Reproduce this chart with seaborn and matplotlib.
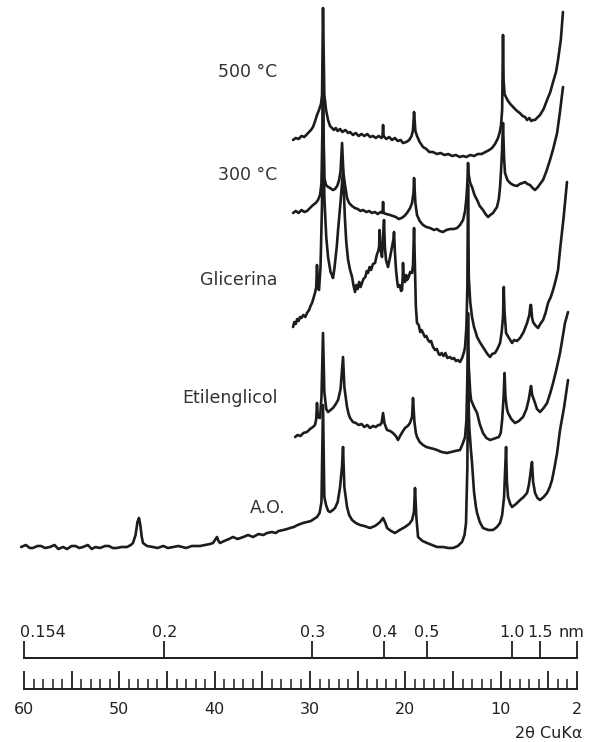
import numpy as np
import pandas as pd
import matplotlib
matplotlib.use("Agg")
import matplotlib.pyplot as plt
import seaborn as sns
from matplotlib.ticker import FixedLocator

# XRD traces: (2-theta deg, intensity above trace start, a.u.)
pts_500 = [(31.78, 0), (31.5, 2), (31.2, 1), (30.9, 4), (30.6, 3), (30.2, 7), (29.9, 10), (29.69, 13), (29.5, 18),
           (29.27, 25), (29.06, 30), (28.85, 36), (28.74, 45), (28.64, 132), (28.5, 45), (28.32, 30), (28.11, 20),
           (27.9, 14), (27.69, 12), (27.5, 10), (27.3, 12), (27.1, 9), (26.85, 11), (26.6, 8), (26.3, 10), (26.0, 7),
           (25.8, 8), (25.5, 5), (25.2, 7), (24.9, 4), (24.6, 6), (24.3, 4), (24.0, 6), (23.7, 3), (23.39, 4),
           (23.1, 2), (22.8, 4), (22.5, 2), (22.4, 4), (22.34, 15), (22.28, 4), (22.0, 1), (21.7, 3), (21.4, 0),
           (21.1, 2), (20.8, -1), (20.5, 0), (20.25, -3), (19.9, -2), (19.6, 0), (19.35, 4), (19.2, 10), (19.09, 28),
           (18.95, 9), (18.78, 4), (18.5, -2), (18.15, -7), (17.8, -9), (17.5, -12), (17.1, -12), (16.7, -14),
           (16.3, -13), (15.9, -15), (15.5, -14), (15.1, -16), (14.7, -15), (14.3, -17), (13.95, -16), (13.6, -17),
           (13.2, -15), (12.8, -16), (12.4, -14), (12.0, -14), (11.6, -12), (11.2, -10), (10.91, -8), (10.6, -4),
           (10.28, 2), (10.1, 8), (9.97, 15), (9.85, 30), (9.76, 105), (9.7, 60), (9.6, 46), (9.4, 42), (9.23, 39),
           (9.0, 36), (8.8, 34), (8.5, 31), (8.29, 29), (8.0, 27), (7.7, 24), (7.45, 23), (7.24, 20), (7.0, 22),
           (6.8, 19), (6.61, 20), (6.4, 20), (6.2, 22), (5.88, 25), (5.5, 31), (5.14, 40), (4.8, 48), (4.51, 58),
           (4.2, 68), (3.99, 80), (3.7, 100), (3.47, 128)]

pts_300 = [(31.78, 0), (31.5, 2), (31.2, 0), (30.9, 3), (30.6, 1), (30.32, 2), (30.0, 5), (29.69, 8), (29.4, 10),
           (29.16, 13), (28.95, 18), (28.8, 30), (28.64, 118), (28.5, 35), (28.32, 28), (28.1, 26), (27.9, 25),
           (27.6, 23), (27.38, 24), (27.15, 27), (26.95, 33), (26.8, 42), (26.64, 70), (26.5, 40), (26.33, 28),
           (26.12, 15), (25.9, 10), (25.6, 7), (25.3, 5), (25.0, 4), (24.7, 2), (24.44, 3), (24.1, 1), (23.8, 2),
           (23.5, 0), (23.2, 1), (22.9, -1), (22.6, 1), (22.4, 0), (22.34, 11), (22.28, 0), (22.0, -1), (21.61, -2),
           (21.3, -3), (21.0, -4), (20.7, -6), (20.4, -5), (20.1, -3), (19.83, 0), (19.5, 5), (19.3, 10), (19.15, 20),
           (19.09, 35), (18.95, 10), (18.78, -2), (18.5, -8), (18.15, -12), (17.8, -14), (17.41, -15), (17.0, -17),
           (16.7, -16), (16.4, -18), (16.05, -19), (15.7, -17), (15.3, -16), (14.9, -16), (14.58, -15), (14.27, -12),
           (13.95, -7), (13.74, 2), (13.6, 15), (13.5, 30), (13.43, 50), (13.35, 38), (13.2, 30), (13.01, 26),
           (12.75, 18), (12.48, 13), (12.2, 7), (11.86, 3), (11.6, -1), (11.33, -4), (11.1, -2), (10.81, 0),
           (10.6, 3), (10.39, 6), (10.2, 14), (10.07, 26), (9.95, 45), (9.86, 63), (9.76, 90), (9.65, 55), (9.55, 40),
           (9.3, 33), (9.02, 30), (8.7, 28), (8.29, 27), (8.0, 29), (7.7, 30), (7.45, 31), (7.2, 29), (6.93, 28),
           (6.65, 25), (6.4, 23), (6.1, 26), (5.8, 30), (5.56, 33), (5.2, 42), (4.83, 53), (4.5, 64), (4.09, 80),
           (3.8, 100), (3.47, 126)]

pts_gli = [(31.78, 0), (31.65, 5), (31.5, 3), (31.35, 8), (31.2, 6), (31.05, 10), (30.9, 9), (30.7, 12), (30.5, 10),
           (30.32, 14), (30.1, 17), (29.95, 21), (29.79, 24), (29.6, 30), (29.48, 34), (29.35, 40), (29.27, 62),
           (29.18, 40), (29.06, 37), (28.9, 60), (28.75, 120), (28.64, 227), (28.5, 130), (28.3, 90), (28.11, 70),
           (27.85, 55), (27.7, 52), (27.59, 49), (27.45, 58), (27.38, 64), (27.2, 80), (27.06, 97), (26.8, 125),
           (26.54, 157), (26.35, 110), (26.2, 85), (26.01, 67), (25.8, 57), (25.59, 50), (25.45, 42), (25.28, 35),
           (25.15, 42), (25.0, 38), (24.85, 45), (24.7, 40), (24.55, 44), (24.4, 48), (24.2, 50), (24.05, 56),
           (23.92, 54), (23.75, 60), (23.6, 57), (23.4, 63), (23.18, 64), (23.0, 72), (22.85, 76), (22.76, 80),
           (22.7, 97), (22.66, 85), (22.55, 75), (22.45, 70), (22.35, 90), (22.24, 107), (22.15, 80), (22.03, 67),
           (21.82, 60), (21.6, 70), (21.4, 80), (21.25, 88), (21.19, 95), (21.1, 75), (20.98, 57), (20.85, 45),
           (20.77, 40), (20.6, 42), (20.45, 36), (20.35, 37), (20.28, 50), (20.25, 64), (20.18, 48), (20.04, 45),
           (19.92, 52), (19.83, 47), (19.65, 50), (19.5, 55), (19.3, 54), (19.2, 62), (19.09, 99), (19.0, 60),
           (18.9, 20), (18.78, 4), (18.6, 2), (18.45, -5), (18.3, -3), (18.15, -6), (17.95, -10), (17.8, -9),
           (17.62, -13), (17.45, -15), (17.3, -14), (17.1, -20), (16.89, -23), (16.7, -22), (16.5, -27), (16.37, -28),
           (16.2, -26), (16.0, -29), (15.8, -26), (15.6, -31), (15.32, -30), (15.1, -32), (14.9, -31), (14.7, -34),
           (14.5, -33), (14.27, -35), (14.05, -31), (13.85, -25), (13.74, -20), (13.6, 0), (13.5, 40), (13.43, 142),
           (13.35, 50), (13.2, 25), (13.01, 10), (12.8, 0), (12.6, -6), (12.48, -10), (12.2, -15), (11.86, -20),
           (11.6, -24), (11.4, -27), (11.12, -30), (10.9, -27), (10.6, -26), (10.35, -22), (10.07, -16), (9.9, -5),
           (9.76, 10), (9.68, 40), (9.6, 15), (9.44, -6), (9.2, -10), (9.0, -13), (8.81, -16), (8.6, -13), (8.3, -14),
           (7.97, -11), (7.6, -5), (7.24, 4), (7.0, 12), (6.88, 22), (6.82, 22), (6.72, 10), (6.61, 5), (6.4, 2),
           (6.2, 0), (6.09, -1), (5.85, 3), (5.56, 7), (5.3, 14), (5.04, 24), (4.75, 30), (4.51, 37), (4.2, 48),
           (3.99, 57), (3.78, 77), (3.4, 110), (3.05, 145)]

pts_eti = [(31.57, 0), (31.3, 2), (31.0, 1), (30.7, 4), (30.32, 5), (30.0, 8), (29.7, 10), (29.48, 12), (29.35, 18),
           (29.27, 34), (29.18, 20), (28.95, 19), (28.8, 40), (28.64, 104), (28.5, 45), (28.3, 28), (28.11, 25),
           (27.85, 27), (27.59, 29), (27.3, 33), (27.06, 37), (26.8, 48), (26.54, 80), (26.4, 50), (26.12, 30),
           (25.95, 23), (25.8, 19), (25.5, 15), (25.2, 14), (24.9, 12), (24.6, 13), (24.3, 10), (24.0, 12), (23.71, 9),
           (23.4, 11), (23.1, 10), (22.85, 12), (22.66, 12), (22.5, 14), (22.34, 24), (22.2, 14), (22.05, 10),
           (21.92, 7), (21.6, 6), (21.3, 4), (21.0, 1), (20.77, -3), (20.5, 2), (20.25, 6), (20.04, 9), (19.75, 11),
           (19.52, 14), (19.3, 20), (19.2, 39), (19.05, 15), (18.9, 4), (18.78, 0), (18.5, -5), (18.15, -8),
           (17.8, -10), (17.41, -11), (17.0, -12), (16.68, -13), (16.2, -15), (15.63, -16), (15.2, -15), (14.8, -14),
           (14.27, -13), (14.0, -7), (13.74, 0), (13.6, 17), (13.5, 60), (13.43, 124), (13.35, 70), (13.2, 45),
           (13.11, 37), (12.8, 30), (12.48, 24), (12.2, 13), (11.86, 4), (11.5, -1), (11.12, -3), (10.8, -2),
           (10.5, -1), (10.2, 0), (10.0, 4), (9.85, 17), (9.7, 40), (9.6, 64), (9.5, 40), (9.35, 28), (9.23, 24),
           (8.9, 18), (8.5, 14), (8.1, 16), (7.66, 20), (7.3, 28), (7.05, 38), (6.9, 47), (6.82, 51), (6.7, 42),
           (6.55, 38), (6.4, 34), (6.2, 28), (5.88, 25), (5.5, 29), (5.14, 34), (4.8, 44), (4.51, 54), (4.15, 68),
           (3.78, 84), (3.5, 100), (3.26, 114), (2.94, 125)]

pts_ao = [(60.3, 0), (59.8, 2), (59.4, -1), (59.06, -1), (58.6, 1), (58.2, 1), (57.8, -1), (57.27, 0), (56.8, 2),
          (56.4, -2), (55.9, 0), (55.49, -2), (55.0, 1), (54.6, 1), (54.2, -1), (53.81, 0), (53.3, 2), (52.9, -2),
          (52.5, 0), (52.03, -1), (51.5, 1), (51.1, 1), (50.7, -1), (50.25, -1), (49.8, 0), (49.2, 0), (48.8, 2),
          (48.57, 4), (48.3, 12), (48.1, 25), (47.94, 29), (47.8, 22), (47.65, 10), (47.52, 4), (47.1, 1), (46.47, 0),
          (46.0, -1), (45.4, 1), (44.9, -1), (44.37, 0), (43.8, 1), (43.0, -1), (42.4, 1), (41.54, 1), (41.0, 2),
          (40.5, 3), (40.18, 4), (39.9, 8), (39.76, 10), (39.6, 6), (39.44, 4), (39.0, 6), (38.5, 8), (38.08, 10),
          (37.6, 8), (37.0, 10), (36.5, 12), (35.98, 10), (35.4, 13), (34.9, 12), (34.51, 14), (34.0, 15),
          (33.6, 14), (33.3, 16), (32.8, 17), (32.4, 18), (32.1, 19), (31.7, 20), (31.3, 22), (30.74, 24), (30.3, 25),
          (29.9, 26), (29.6, 28), (29.27, 30), (29.0, 34), (28.8, 45), (28.64, 142), (28.5, 50), (28.32, 42),
          (28.1, 36), (27.9, 35), (27.6, 37), (27.38, 39), (27.1, 45), (26.85, 60), (26.65, 80), (26.54, 100),
          (26.4, 60), (26.12, 40), (25.9, 32), (25.59, 27), (25.2, 24), (24.76, 22), (24.3, 21), (23.71, 19),
          (23.2, 21), (22.9, 23), (22.66, 25), (22.34, 29), (22.1, 24), (21.92, 19), (21.5, 16), (21.09, 14),
          (20.6, 17), (20.04, 20), (19.6, 23), (19.3, 27), (19.1, 35), (18.99, 59), (18.85, 30), (18.67, 10),
          (18.2, 6), (17.73, 4), (17.2, 2), (16.68, 0), (16.05, 0), (15.5, -1), (15.0, -1), (14.5, 1), (14.06, 5),
          (13.8, 12), (13.64, 24), (13.5, 80), (13.43, 167), (13.3, 120), (13.15, 100), (13.01, 84), (12.8, 55),
          (12.6, 40), (12.48, 34), (12.2, 25), (11.86, 19), (11.3, 17), (10.81, 17), (10.4, 20), (10.07, 24),
          (9.85, 32), (9.65, 50), (9.5, 85), (9.44, 100), (9.35, 65), (9.23, 50), (9.0, 43), (8.81, 40), (8.4, 43),
          (7.97, 47), (7.6, 50), (7.24, 54), (7.05, 62), (6.93, 70), (6.8, 80), (6.72, 85), (6.6, 65), (6.4, 54),
          (6.15, 49), (5.88, 47), (5.5, 50), (5.14, 54), (4.85, 60), (4.62, 67), (4.35, 80), (4.09, 94), (3.78, 117),
          (3.35, 140), (2.94, 167)]

names = ["500 °C", "300 °C", "Glicerina", "Etilenglicol", "A.O."]
offsets = [420, 347, 233, 123, 13]
label_pos = [(33.4, 488), (33.4, 385), (33.4, 280), (33.4, 162), (32.6, 52)]

d_ticks = [0.154, 0.2, 0.3, 0.4, 0.5, 1.0, 1.5]
d_labels = ["0.154", "0.2", "0.3", "0.4", "0.5", "1.0", "1.5"]
tt_major = [60, 55, 50, 45, 40, 35, 30, 25, 20, 15, 10, 5, 2]
tt_labels = ["60", "", "50", "", "40", "", "30", "", "20", "", "10", "", "2"]
tt_minor = list(range(3, 60))

ink = "#1c1c1c"
sns.set_style("white")
plt.rcParams["font.family"] = ["DejaVu Sans"]

fig = plt.figure(figsize=(5.95, 7.42), dpi=100)
W, H = 595, 742
left, width = 24 / W, 553 / W

ax = fig.add_axes([left, (H - 560) / H, width, 560 / H])
traces = [pts_500, pts_300, pts_gli, pts_eti, pts_ao]
for pts, off in zip(traces, offsets):
    df = pd.DataFrame(pts, columns=["tt", "i"])
    df["y"] = df["i"] + off
    sns.lineplot(data=df, x="tt", y="y", sort=False, estimator=None, ax=ax,
                 color=ink, lw=1.9, clip_on=False)
for name, (x, y) in zip(names, label_pos):
    ax.text(x, y, name, ha="right", va="center", fontsize=12.5, color="#333333")
ax.set_xlim(60, 2)
ax.set_ylim(0, 560)
ax.axis("off")

# d-spacing (nm) ruler, CuKa lambda = 0.154 nm
d_pos = [2 * np.degrees(np.arcsin(0.154 / (2 * d))) for d in d_ticks]
nm_ax = fig.add_axes([left, (H - 658) / H, width, 12 / H])
nm_ax.set_xlim(60, 2)
nm_ax.set_ylim(0, 1)
nm_ax.set_yticks([])
for s in ["top", "left", "right"]:
    nm_ax.spines[s].set_visible(False)
nm_ax.spines["bottom"].set_linewidth(1.4)
nm_ax.spines["bottom"].set_color(ink)
nm_ax.set_xticks(d_pos + [2])
nm_ax.tick_params(axis="x", bottom=True, direction="in", length=12, width=1.3, color=ink, labelbottom=False)
for p, lab in zip(d_pos, d_labels):
    first = lab == "0.154"
    nm_ax.text(p + (0.4 if first else 0), 2.1, lab, ha="left" if first else "center",
               va="center", fontsize=11.5, color="#222222")
nm_ax.text(2.6, 2.1, "nm", ha="center", va="center", fontsize=11.5, color="#222222")

# 2-theta ruler
tt_ax = fig.add_axes([left, (H - 689) / H, width, 13 / H])
tt_ax.set_xlim(60, 2)
tt_ax.set_ylim(0, 1)
tt_ax.set_yticks([])
for s in ["top", "left", "right"]:
    tt_ax.spines[s].set_visible(False)
tt_ax.spines["bottom"].set_linewidth(1.4)
tt_ax.spines["bottom"].set_color(ink)
tt_ax.set_xticks(tt_major)
tt_ax.set_xticklabels(tt_labels, fontsize=11.5, color="#222222")
tt_ax.xaxis.set_minor_locator(FixedLocator(tt_minor))
tt_ax.tick_params(axis="x", which="major", bottom=True, direction="in", length=13, width=1.3, color=ink, pad=9)
tt_ax.tick_params(axis="x", which="minor", bottom=True, direction="in", length=7, width=1.1, color=ink)
fig.text(582 / W, 1 - 733 / H, "2θ CuKα", ha="right", va="center", fontsize=11.5, color="#222222")

fig.savefig("out.png", dpi=100, facecolor="white")
